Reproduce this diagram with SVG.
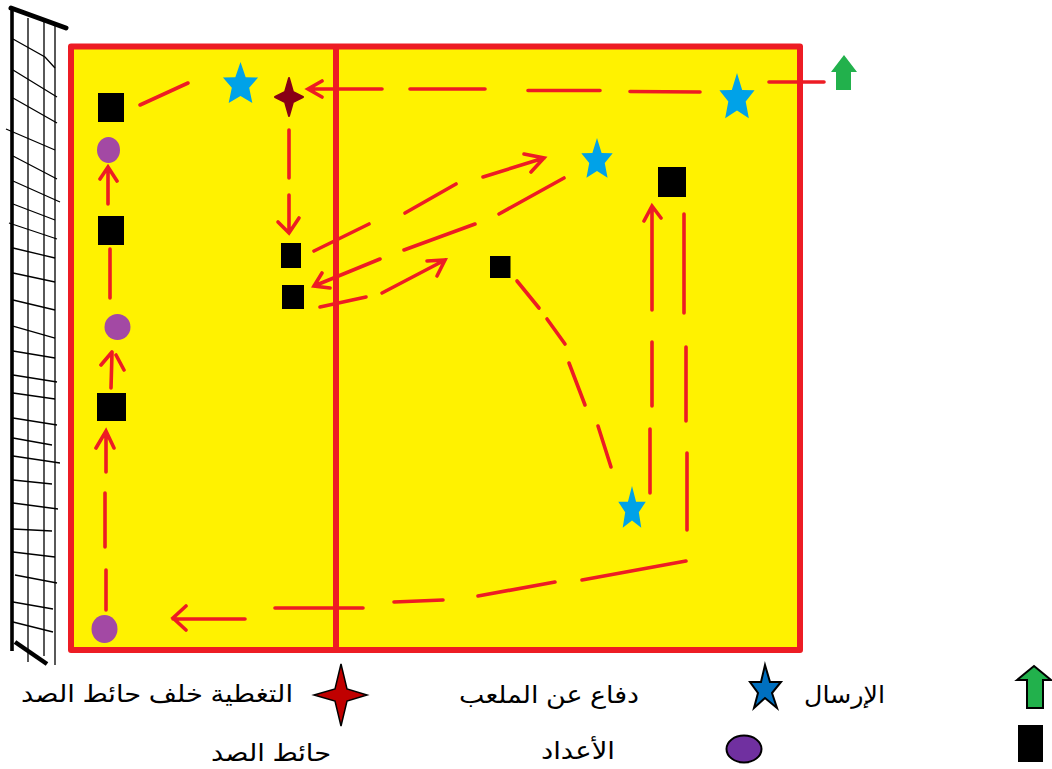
<svg xmlns="http://www.w3.org/2000/svg" width="1052" height="769" viewBox="0 0 1052 769">
<style>
.court{fill:#FFF200;stroke:#ED1C24;stroke-width:6;stroke-linejoin:round}
.r{fill:none;stroke:#ED1C24;stroke-width:3.6;stroke-linecap:round;stroke-linejoin:miter}
.n{fill:none;stroke:#000;stroke-width:1.3}
.k{fill:#000}
.p{fill:#A349A4}
.s{fill:#00A2E8}
.t{font-family:"Liberation Sans","DejaVu Sans",sans-serif;font-size:24px;fill:#000}
</style>
<defs>
<polygon id="star" points="0,-1 .28,-.32 .95,-.31 .47,.14 .64,.81 0,.5 -.64,.81 -.47,.14 -.95,-.31 -.28,-.32"/>
</defs>
<rect width="1052" height="769" fill="#fff"/>
<g id="net">
<path class="n" d="M28,18V662M44,22V656M55,26V665"/>
<path class="n" d="M13,39L45,57L55,68M13,70L57,97M13,98L57,123M6,129L55,150M13,156L57,179M13,181L60,202M13,204L55,220M9,223L57,239M13,248L55,258M13,273L55,282M13,300L55,310M13,326L55,338M13,351L55,358M13,375L57,382M13,393L55,399M13,418L57,425M13,438L52,445M13,456L60,463M13,480L52,484M13,503L58,509M13,529L52,531M13,552L55,557M15,575L57,583M13,602L53,609M13,622L53,632"/>
<path d="M12,8V651" fill="none" stroke="#000" stroke-width="3.6"/>
<path d="M11,8L66,28" fill="none" stroke="#000" stroke-width="5" stroke-linecap="round"/>
<path d="M15,642L47,664" fill="none" stroke="#000" stroke-width="4.500"/>
</g>
<g id="court">
<rect class="court" x="71" y="46.500" width="729" height="603.500"/>
<path d="M336,46V650" fill="none" stroke="#ED1C24" stroke-width="6"/>
</g>
<g id="connectors">
<path class="r" d="M824,82H769M700,92L630,91.500M600,90.500H528M485,89H410M382,89H308M322,81L308,89L322,97"/>
<path class="r" d="M140,105L188,83"/>
<path class="r" d="M289,130V178M289,195V233M278,222L289,233L299,218"/>
<path class="r" d="M108,204V167M100,179L108,167L117,181M110,249V298M111,388L112,353M101,365L112,352M116,355L124,370M106,472V431M96,448L106,431L114,448M105,493V547M106,570V610"/>
<path class="r" d="M245,619H173M186,606L173,618L186,630M275,608H363M394,602L443,600M478,596L555,582M582,580L686,561"/>
<path class="r" d="M652,206V310M644,221L652,206L661,218M652,342V406M650,429V493M684,214V313M686,347V421M687,453V530"/>
<path class="r" d="M517,281L539,308M547,319L565,344M569,363L585,405M598,426L611,467"/>
<path class="r" d="M314,251L369,224M405,213L456,184M483,177L544,158M524,154L544,158L531,172"/>
<path class="r" d="M564,178L499,214M475,224L404,250M380,259L314,286M322,273L314,286L330,288"/>
<path class="r" d="M320,307L366,297M382,293L445,260M427,261L445,260L437,276"/>
</g>
<g id="node-square-1"><rect class="k" x="98" y="93" width="26" height="29"/></g>
<g id="node-square-2"><rect class="k" x="98" y="216" width="26" height="29"/></g>
<g id="node-square-3"><rect class="k" x="97" y="393" width="29" height="28"/></g>
<g id="node-square-4"><rect class="k" x="281" y="243" width="20" height="25"/></g>
<g id="node-square-5"><rect class="k" x="282" y="285" width="22" height="24"/></g>
<g id="node-square-6"><rect class="k" x="490" y="256" width="20.500" height="22"/></g>
<g id="node-square-7"><rect class="k" x="658" y="167" width="28" height="30"/></g>
<g id="node-circle-1"><ellipse class="p" cx="108.500" cy="150" rx="11.500" ry="13"/></g>
<g id="node-circle-2"><circle class="p" cx="117.500" cy="327" r="13"/></g>
<g id="node-circle-3"><ellipse class="p" cx="104.500" cy="629" rx="13" ry="14"/></g>
<g id="node-star-1"><use href="#star" class="s" transform="translate(240.500,84.600) scale(18.500,22.600)"/></g>
<g id="node-star-2"><use href="#star" class="s" transform="translate(737,98) scale(18.500,25)"/></g>
<g id="node-star-3"><use href="#star" class="s" transform="translate(597,160) scale(16.500,22)"/></g>
<g id="node-star-4"><use href="#star" class="s" transform="translate(632,509) scale(14.500,23)"/></g>
<g id="node-cover"><polygon fill="#880015" stroke="#880015" stroke-width="2" stroke-linejoin="round" points="289,78 293,92 303,97 293,102 289,116 285,102 275,97 285,92"/></g>
<g id="node-serve-arrow"><polygon fill="#22B14C" points="844,55 857,72 851,72 851,90 836,90 836,72 831,72"/></g>
<g id="legend-serve">
<polygon fill="#22B14C" stroke="#000" stroke-width="2" points="1034,666 1051,680 1043,680 1043,708 1027,708 1027,680 1017,680"/>
<text class="t" x="885" y="703" direction="rtl" textLength="81" lengthAdjust="spacingAndGlyphs">الإرسال</text>
</g>
<g id="legend-star">
<polygon fill="#0070C0" stroke="#000" stroke-width="2" stroke-linejoin="miter" points="765,665 770,682 781,682 772,693 777,708 765,698 754,708 758,693 750,682 761,682"/>
<text class="t" x="639" y="703" direction="rtl" textLength="180" lengthAdjust="spacingAndGlyphs">دفاع عن الملعب</text>
</g>
<g id="legend-cover">
<polygon fill="#C00000" stroke="#000" stroke-width="1.500" points="341,664 347,689 367,695 347,701 341,726 335,701 314,695 335,689"/>
<text class="t" x="293" y="702" direction="rtl" textLength="272" lengthAdjust="spacingAndGlyphs">التغطية خلف حائط الصد</text>
</g>
<g id="legend-block">
<rect x="1018" y="725" width="25" height="37" fill="#000"/>
<text class="t" x="331" y="761" direction="rtl" textLength="120" lengthAdjust="spacingAndGlyphs">حائط الصد</text>
</g>
<g id="legend-setter">
<ellipse cx="744" cy="749" rx="17.500" ry="13.500" fill="#7030A0" stroke="#000" stroke-width="2"/>
<text class="t" x="615" y="759" direction="rtl" textLength="74" lengthAdjust="spacingAndGlyphs">الأعداد</text>
</g>
</svg>
